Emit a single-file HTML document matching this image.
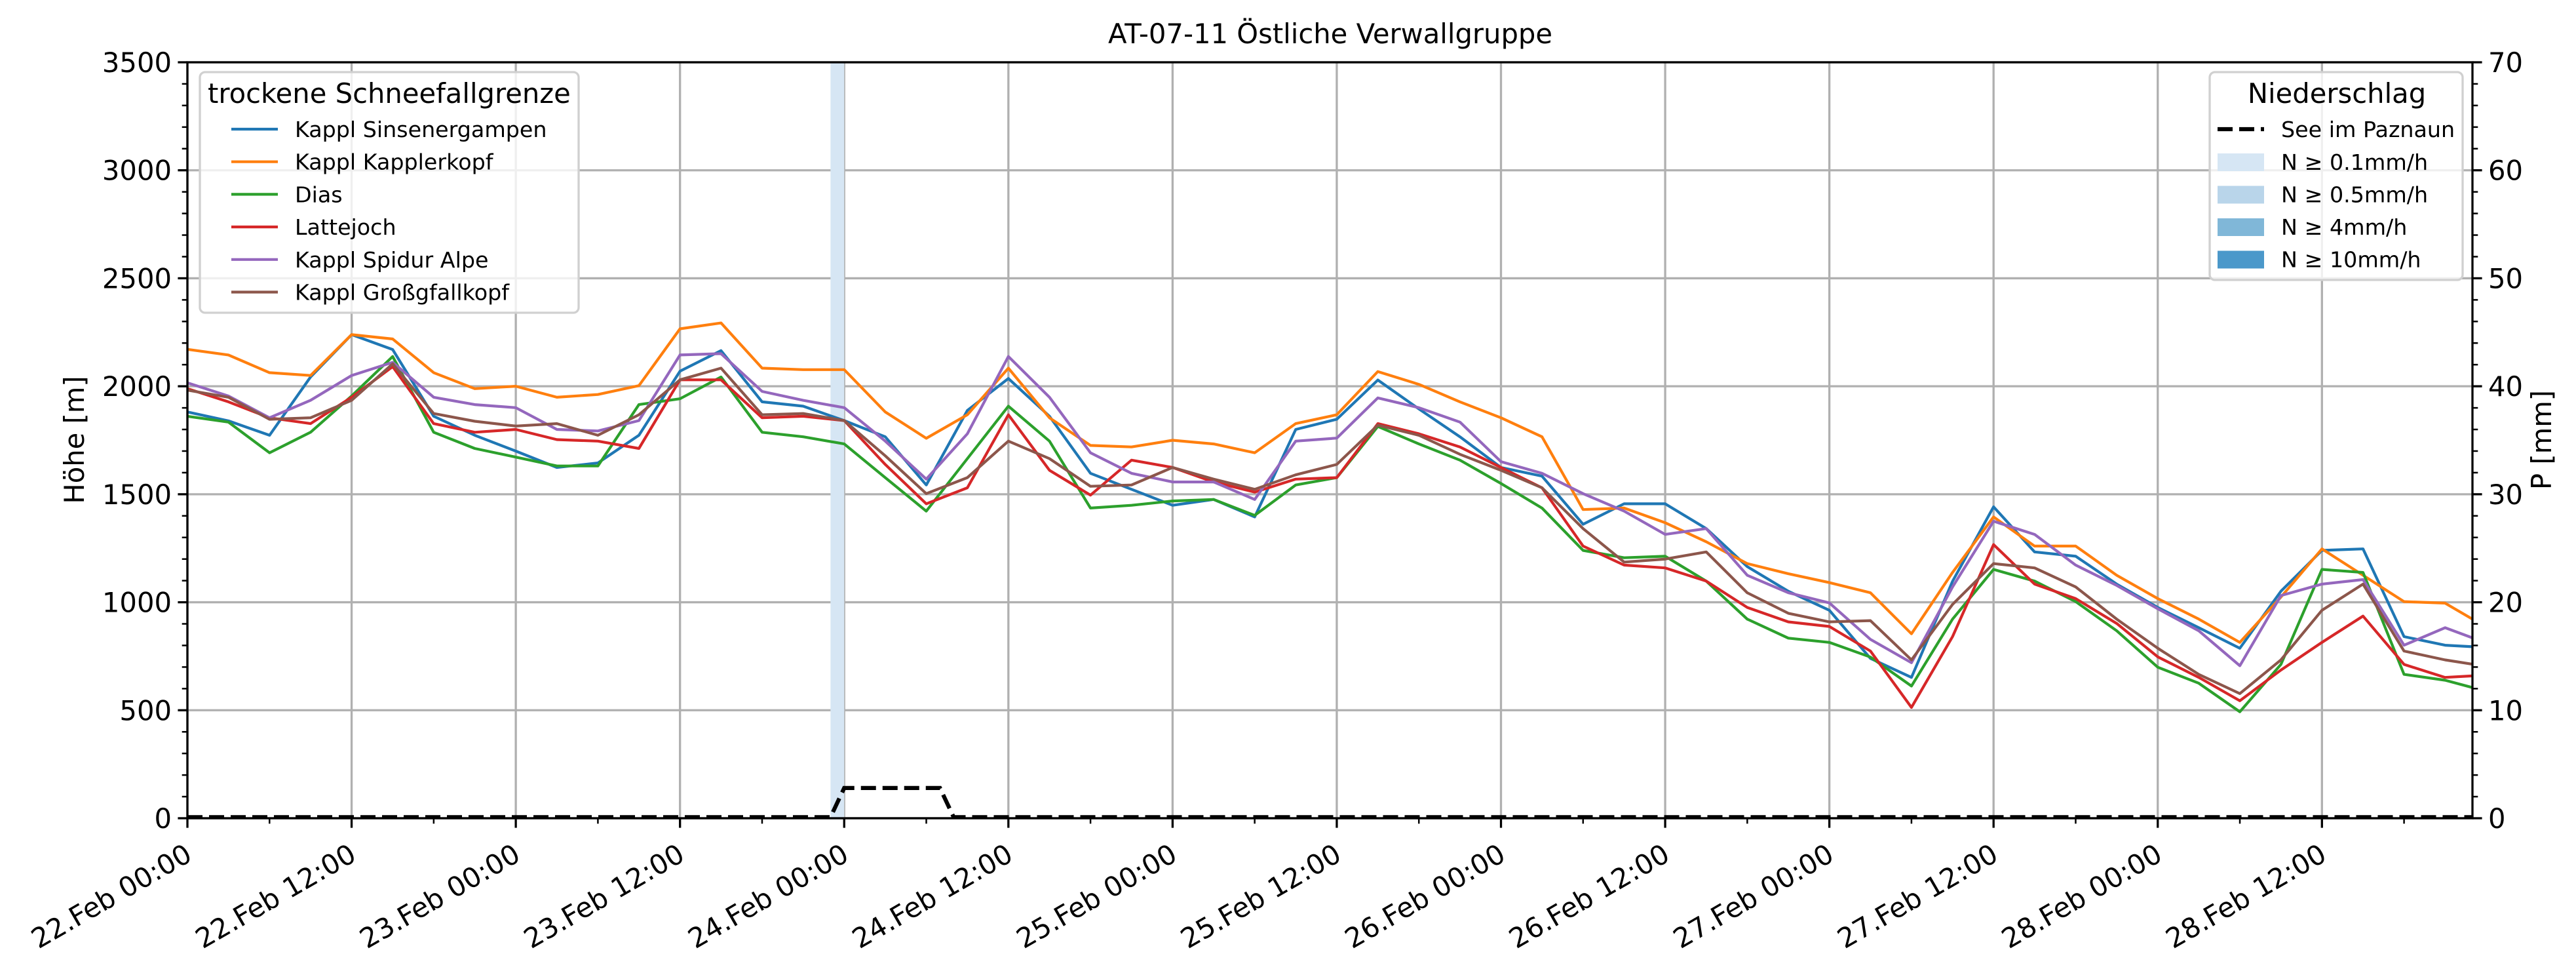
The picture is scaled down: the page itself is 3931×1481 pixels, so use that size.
<!DOCTYPE html>
<html><head><meta charset="utf-8">
<style>
html,body{margin:0;padding:0;background:#fff;}
svg{display:block;font-family:"DejaVu Sans","Liberation Sans",sans-serif;}
</style></head>
<body>
<svg id="chart" width="3931" height="1481" viewBox="0 0 3931 1481" xmlns="http://www.w3.org/2000/svg">
<rect x="0" y="0" width="3931" height="1481" fill="#fff"/>
<text x="2030" y="66" font-size="41.7" text-anchor="middle">AT-07-11 Östliche Verwallgruppe</text>
<g id="grid"></g>
<g id="precip"></g>
<g id="series"></g>
<g id="axes"></g>
<text transform="translate(128,671) rotate(-90)" font-size="41.7" text-anchor="middle">Höhe [m]</text>
<text transform="translate(3893,671) rotate(-90)" font-size="41.7" text-anchor="middle">P [mm]</text>
<g id="legend1"></g>
<g id="legend2"></g>
</svg>
<script>
const hours = [0,3,6,9,12,15,18,21,24,27,30,33,36,39,42,45,48,51,54,57,60,63,66,69,72,75,78,81,84,87,90,93,96,99,102,105,108,111,114,117,120,123,126,129,132,135,138,141,144,147,150,153,156,159,162,165,167];
const sinsener = [1881,1840,1773,2043,2239,2170,1861,1773,1700,1624,1645,1773,2070,2165,1928,1908,1841,1766,1543,1888,2036,1861,1597,1523,1449,1476,1395,1800,1847,2029,1895,1766,1624,1584,1361,1456,1456,1341,1165,1051,963,740,652,1097,1442,1233,1213,1084,976,882,787,1051,1240,1247,841,801,794];
const kapplerkopf = [2171,2145,2063,2050,2239,2219,2063,1989,2000,1949,1962,2003,2266,2293,2084,2077,2077,1881,1759,1868,2084,1854,1726,1719,1750,1733,1692,1827,1868,2068,2009,1928,1854,1766,1429,1436,1368,1280,1179,1132,1091,1044,854,1138,1395,1260,1260,1125,1017,922,814,1024,1247,1125,1003,996,922];
const dias = [1861,1834,1692,1787,1955,2138,1787,1712,1672,1631,1631,1915,1942,2043,1787,1766,1733,1577,1422,1665,1908,1746,1436,1449,1469,1476,1402,1543,1577,1814,1733,1658,1550,1436,1240,1206,1213,1098,922,834,814,746,612,922,1152,1098,1003,868,699,625,493,712,1152,1138,666,639,605];
const lattejoch = [1989,1928,1854,1827,1949,2091,1827,1787,1800,1753,1746,1712,2030,2030,1854,1861,1841,1638,1456,1530,1868,1611,1496,1658,1624,1557,1510,1570,1577,1827,1780,1719,1624,1530,1260,1172,1159,1098,976,909,888,774,513,841,1267,1084,1017,902,747,652,544,686,814,936,712,652,659];
const spidur = [2016,1955,1854,1935,2050,2111,1949,1915,1901,1800,1793,1841,2145,2151,1976,1935,1901,1746,1570,1780,2138,1949,1692,1597,1557,1557,1476,1746,1760,1946,1901,1834,1651,1597,1503,1422,1314,1341,1125,1044,997,828,720,1071,1375,1314,1172,1078,970,868,706,1031,1084,1105,801,882,835];
const grossgfall = [1982,1949,1847,1854,1935,2104,1874,1838,1816,1827,1773,1868,2030,2084,1868,1874,1841,1678,1503,1577,1746,1665,1537,1543,1624,1570,1523,1590,1638,1820,1773,1685,1611,1530,1341,1186,1200,1233,1044,949,909,915,733,990,1179,1159,1071,922,787,666,577,733,963,1084,774,733,713];
const precipHours = [0,47,48,55,56,167];
const precipVals = [0.1,0.1,2.8,2.8,0.1,0.1];
const bandStart = [47];
const bandEnd = [48];
const yTicks = [0,500,1000,1500,2000,2500,3000,3500];
const y2Ticks = [0,10,20,30,40,50,60,70];
const xTickHours = [0,12,24,36,48,60,72,84,96,108,120,132,144,156];
const xTickLabels = ["22.Feb 00:00","22.Feb 12:00","23.Feb 00:00","23.Feb 12:00","24.Feb 00:00","24.Feb 12:00","25.Feb 00:00","25.Feb 12:00","26.Feb 00:00","26.Feb 12:00","27.Feb 00:00","27.Feb 12:00","28.Feb 00:00","28.Feb 12:00"];
const seriesNames = ["Kappl Sinsenergampen","Kappl Kapplerkopf","Dias","Lattejoch","Kappl Spidur Alpe","Kappl Großgfallkopf"];

const NS="http://www.w3.org/2000/svg";
const L=286,R=3773,T=95,B=1248,HMAX=167;
const xS=h=>L+h*(R-L)/HMAX;
const yS=v=>B-v*(B-T)/3500;
const y2S=v=>B-v*(B-T)/70;
function mk(tag,attrs,parent){const e=document.createElementNS(NS,tag);for(const k in attrs)e.setAttribute(k,attrs[k]);parent.appendChild(e);return e;}
const grid=document.getElementById('grid'),axes=document.getElementById('axes'),ser=document.getElementById('series'),pr=document.getElementById('precip');

yTicks.forEach(v=>{const g=mk('line',{x1:L,x2:R,y1:yS(v),y2:yS(v),stroke:'#b0b0b0','stroke-width':3.3},grid);

});
xTickHours.forEach(h=>{const g=mk('line',{x1:xS(h),x2:xS(h),y1:T,y2:B,stroke:'#b0b0b0','stroke-width':3.3},grid);

});

bandStart.forEach((s,i)=>{const r=mk('rect',{x:xS(s),y:T,width:xS(bandEnd[i])-xS(s),height:B-T,fill:'#d6e6f4'},pr);

});
const pp=mk('polyline',{points:precipHours.map((h,i)=>xS(h)+','+y2S(precipVals[i])).join(' '),fill:'none',stroke:'#000','stroke-width':6.2,'stroke-dasharray':'23,10'},pr);



const colors=['#1f77b4','#ff7f0e','#2ca02c','#d62728','#9467bd','#8c564b'];
const data=[sinsener,kapplerkopf,dias,lattejoch,spidur,grossgfall];
const sNames=['line-sinsenergampen','line-kapplerkopf','line-dias','line-lattejoch','line-spidur-alpe','line-grossgfallkopf'];
data.forEach((d,i)=>{const p=mk('polyline',{points:d.map((v,j)=>xS(hours[j]).toFixed(1)+','+yS(v).toFixed(1)).join(' '),fill:'none',stroke:colors[i],'stroke-width':4.2,'stroke-linejoin':'round'},ser);

});

mk('rect',{x:L,y:T,width:R-L,height:B-T,fill:'none',stroke:'#000','stroke-width':3.3},axes);
yTicks.forEach(v=>{mk('line',{x1:L-14.6,x2:L,y1:yS(v),y2:yS(v),stroke:'#000','stroke-width':3.3},axes);
const t=mk('text',{x:L-24,y:yS(v)+15,'font-size':41.7,'text-anchor':'end'},axes);t.textContent=v;

});
for(let v=0;v<=3500;v+=100){mk('line',{x1:L-8.3,x2:L,y1:yS(v),y2:yS(v),stroke:'#000','stroke-width':2.5},axes);}
y2Ticks.forEach(v=>{mk('line',{x1:R,x2:R+14.6,y1:y2S(v),y2:y2S(v),stroke:'#000','stroke-width':3.3},axes);
const t=mk('text',{x:R+24,y:y2S(v)+15,'font-size':41.7},axes);t.textContent=v;

});
for(let v=0;v<=70;v+=2){mk('line',{x1:R,x2:R+8.3,y1:y2S(v),y2:y2S(v),stroke:'#000','stroke-width':2.5},axes);}
for(let h=0;h<=HMAX;h+=6){mk('line',{x1:xS(h),x2:xS(h),y1:B,y2:B+(h%12===0?14.6:8.3),stroke:'#000','stroke-width':h%12===0?3.3:2.5},axes);}
xTickHours.forEach((h,i)=>{const t=mk('text',{transform:'translate('+(xS(h)-6)+','+(B+36)+') rotate(-30)','font-size':41.7,'text-anchor':'end','dominant-baseline':'hanging'},axes);t.textContent=xTickLabels[i];

});

const l1=document.getElementById('legend1');
mk('rect',{x:305,y:110,width:578,height:367,rx:8,fill:'rgba(255,255,255,0.8)',stroke:'#d0d0d0','stroke-width':3.3},l1);
const lt=mk('text',{x:317,y:157,'font-size':41.7},l1);lt.textContent='trockene Schneefallgrenze';
seriesNames.forEach((n,i)=>{const y=197+i*49.7;
mk('line',{x1:353,x2:424,y1:y,y2:y,stroke:colors[i],'stroke-width':4.2},l1);
const t=mk('text',{x:450,y:y+12,'font-size':33.3},l1);t.textContent=n;

});

const l2=document.getElementById('legend2');
mk('rect',{x:3372,y:110,width:386,height:317,rx:8,fill:'rgba(255,255,255,0.8)',stroke:'#d0d0d0','stroke-width':3.3},l2);
const t2=mk('text',{x:3566,y:157,'font-size':41.7,'text-anchor':'middle'},l2);t2.textContent='Niederschlag';
mk('line',{x1:3384,x2:3455,y1:197,y2:197,stroke:'#000','stroke-width':6.2,'stroke-dasharray':'23,10'},l2);
const ta=mk('text',{x:3481,y:209,'font-size':33.3},l2);ta.textContent='See im Paznaun';


const pcols=['#d6e6f4','#b9d5ea','#80b7d8','#4b98ca'];
const plabels=['N ≥ 0.1mm/h','N ≥ 0.5mm/h','N ≥ 4mm/h','N ≥ 10mm/h'];
pcols.forEach((c,i)=>{const y=247+i*49.5;
mk('rect',{x:3384,y:y-13,width:71,height:27,fill:c},l2);
const t=mk('text',{x:3481,y:y+12,'font-size':33.3},l2);t.textContent=plabels[i];

});
</script>
</body></html>
